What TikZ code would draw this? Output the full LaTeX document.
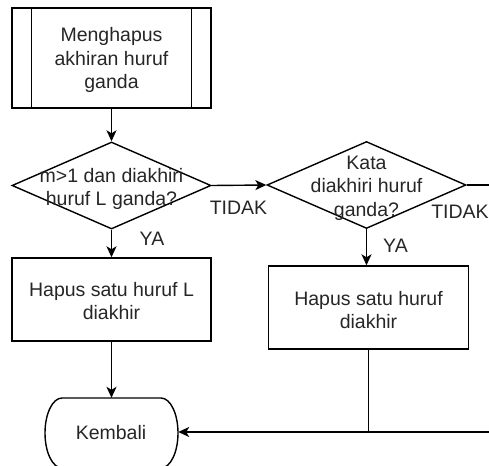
\documentclass[tikz,border=0pt]{standalone}
\usepackage{fontspec}
\setmainfont{Liberation Sans}
\usetikzlibrary{shapes.geometric,arrows.meta}
\begin{document}
\begin{tikzpicture}[x=1pt,y=-1pt,
  every node/.style={font=\fontsize{19.5}{23.5}\selectfont, text=black!85},
  line/.style={line width=1.4pt, draw=black},
  flow/.style={line, -{Stealth[length=11pt,width=10pt,inset=3pt]}},
  procbox/.style={line, rectangle, minimum width=199pt, inner sep=0pt, align=center},
  decision/.style={line, diamond, minimum width=199pt, minimum height=87pt, inner sep=0pt},
  txt/.style={align=center, inner sep=0pt},
  lbl/.style={inner sep=0pt},
  endcap/.style={rectangle, minimum width=133pt, minimum height=70pt, inner sep=0pt}]
\useasboundingbox (0,0) rectangle (489,465);

% subprocess
\node[procbox, minimum height=100pt] (sub) at (111.5,58) {};
\draw[line] ([xshift=20pt]sub.north west) -- ([xshift=20pt]sub.south west);
\draw[line] ([xshift=-20pt]sub.north east) -- ([xshift=-20pt]sub.south east);
\node[txt] (subt) at (111.5,60) {Menghapus\\akhiran huruf\\ganda};

% first decision
\node[decision] (d1) at (111.5,185.5) {};
\node[txt] (d1t) at (111.5,189) {m>1 dan diakhiri\\huruf L ganda?};

% second decision
\node[decision] (d2) at (366.5,185) {};
\node[txt] (d2t) at (366.5,188) {Kata\\diakhiri huruf\\ganda?};

% actions
\node[procbox, minimum height=83pt] (b1) at (111.5,299.5) {};
\node[txt] (b1t) at (111.5,301) {Hapus satu huruf L\\diakhir};
\node[procbox, minimum height=83pt, minimum width=200pt] (b2) at (368.5,307.5) {};
\node[txt] (b2t) at (368.5,310) {Hapus satu huruf\\diakhir};

% terminator: flat top and bottom, quarter-ellipse ends
\node[endcap] (k) at (111.5,433) {};
\draw[line] (62,398) -- (161,398)
  .. controls (170.4,398) and (178,413.7) .. (178,433)
  .. controls (178,452.3) and (170.4,468) .. (161,468)
  -- (62,468)
  .. controls (52.6,468) and (45,452.3) .. (45,433)
  .. controls (45,413.7) and (52.6,398) .. cycle;
\node[txt] (kt) at (111,433) {Kembali};

% off-page ends
\coordinate (out1) at (489,185);
\coordinate (out2) at (489,432);

% connectors
\draw[flow] (sub.south) -- (d1.north);
\draw[flow] (d1.south) -- (b1.north);
\draw[flow] (d1.east) -- (d2.west);
\draw[flow] (d2.south) -- (d2.south |- b2.north);
\draw[line] (d2.east) -- (out1);
\draw[flow] (b1.south) -- (k.north);
\draw[line] (b2.south) -- (b2.south |- out2);
\draw[flow] (out2) -- (k.east |- out2);

% branch labels
\node[lbl] (ya1) at (152,239) {YA};
\node[lbl] (no1) at (238.5,208) {TIDAK};
\node[lbl] (ya2) at (395.5,246) {YA};
\node[lbl] (no2) at (460,212) {TIDAK};
\end{tikzpicture}
\end{document}
